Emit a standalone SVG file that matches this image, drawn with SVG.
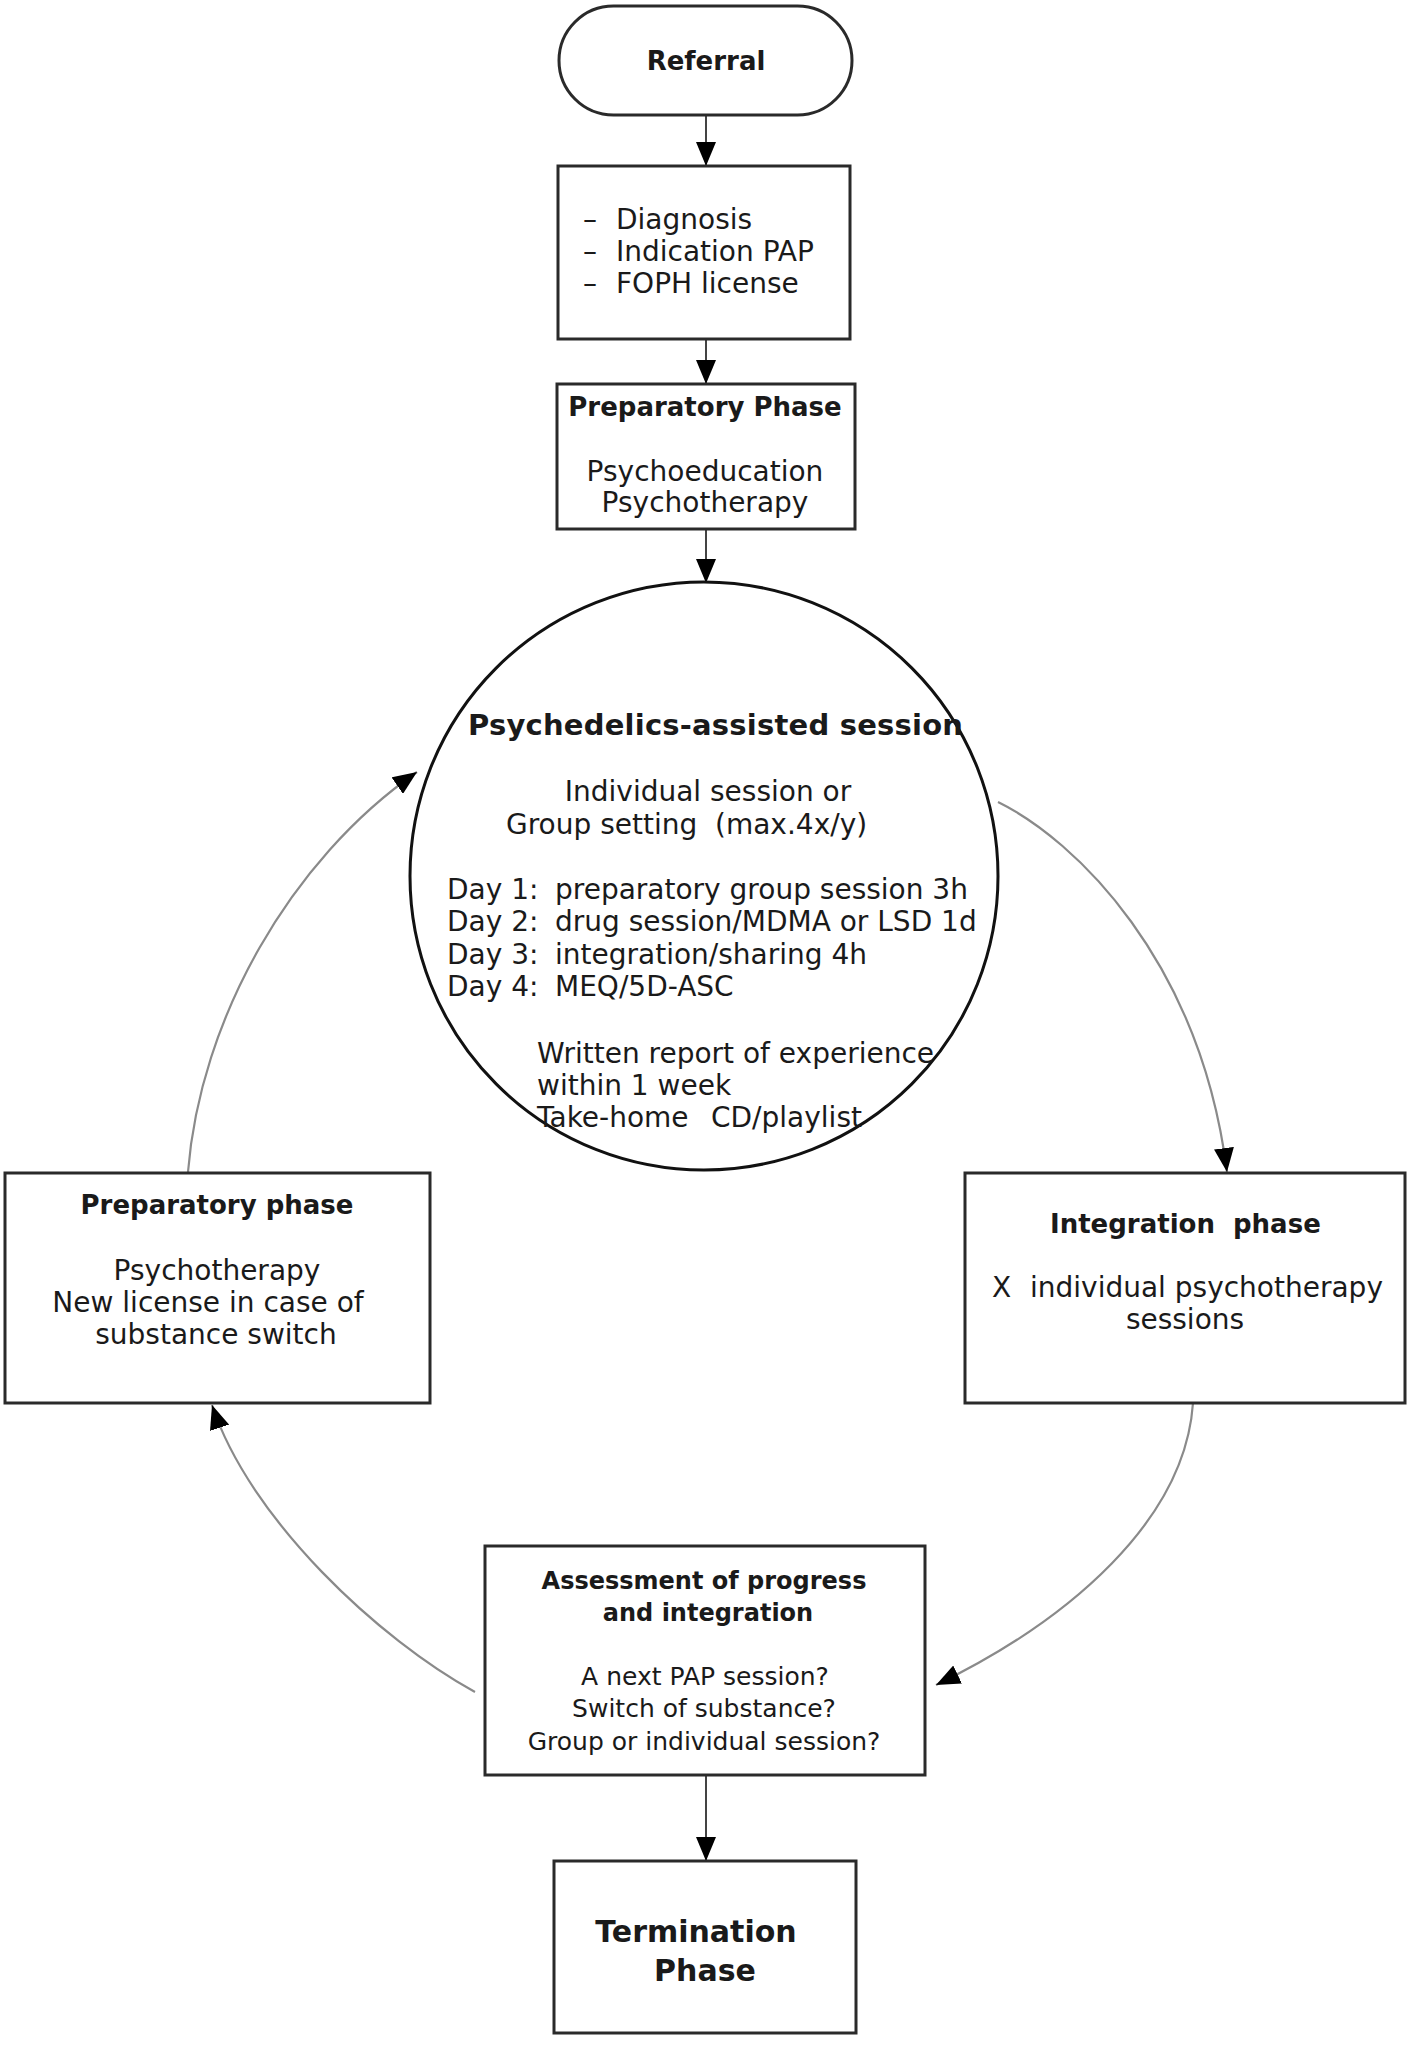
<svg xmlns="http://www.w3.org/2000/svg" width="1417" height="2049" viewBox="0 0 1417 2049">
<style>
  .box { fill: #ffffff; stroke: #2a2a2a; stroke-width: 3; }
  .t { font-family: "DejaVu Sans", "Liberation Sans", sans-serif; font-size: 28px; fill: #1a1a1a; }
  .s { font-size: 25px; }
  .b { font-weight: bold; font-size: 26px; }
  .m { text-anchor: middle; }
  .straight { stroke: #444444; stroke-width: 2; fill: none; }
  .curve { stroke: #8a8a8a; stroke-width: 2.2; fill: none; }
</style>
<defs>
  <marker id="ah" markerUnits="userSpaceOnUse" markerWidth="24" markerHeight="20" viewBox="0 0 24 20" refX="24" refY="10" orient="auto">
    <path d="M0,0 L24,10 L0,20 z" fill="#000000"/>
  </marker>
</defs>
<rect width="1417" height="2049" fill="#ffffff"/>

<g id="connectors">
  <line class="straight" x1="706" y1="115" x2="706" y2="166" marker-end="url(#ah)"/>
  <line class="straight" x1="706" y1="339" x2="706" y2="384" marker-end="url(#ah)"/>
  <line class="straight" x1="706" y1="529" x2="706" y2="583" marker-end="url(#ah)"/>
  <line class="straight" x1="706" y1="1775" x2="706" y2="1861" marker-end="url(#ah)"/>
  <path class="curve" d="M998,802 C1075,840 1200,960 1227,1172" marker-end="url(#ah)"/>
  <path class="curve" d="M1193,1403 C1185,1520 1070,1620 936,1685" marker-end="url(#ah)"/>
  <path class="curve" d="M475,1692 C380,1640 250,1520 212,1405" marker-end="url(#ah)"/>
  <path class="curve" d="M188,1172 C200,1020 290,860 417,772" marker-end="url(#ah)"/>
</g>

<g id="referral">
  <rect class="box" x="559" y="6" width="293" height="109" rx="54.5" ry="54.5"/>
  <text class="t b m" x="706" y="70">Referral</text>
</g>

<g id="diagnosis">
  <rect class="box" x="558" y="166" width="292" height="173"/>
  <text class="t" x="583" y="229">–</text>
  <text class="t" x="616" y="229">Diagnosis</text>
  <text class="t" x="583" y="261">–</text>
  <text class="t" x="616" y="261">Indication PAP</text>
  <text class="t" x="583" y="293">–</text>
  <text class="t" x="616" y="293">FOPH license</text>
</g>

<g id="preparatory-phase-1">
  <rect class="box" x="557" y="384" width="298" height="145"/>
  <text class="t b m" x="705" y="416">Preparatory Phase</text>
  <text class="t m" x="705" y="481">Psychoeducation</text>
  <text class="t m" x="705" y="512">Psychotherapy</text>
</g>

<g id="psychedelic-session">
  <circle cx="704" cy="876" r="294" fill="#ffffff" stroke="#111111" stroke-width="3"/>
  <text class="t b" x="468" y="735" style="font-size:29px" textLength="495">Psychedelics-assisted session</text>
  <text class="t m" x="708" y="801">Individual session or</text>
  <text class="t" y="834"><tspan x="506">Group setting</tspan><tspan x="715">(max.4x/y)</tspan></text>
  <text class="t" y="899"><tspan x="447">Day 1:</tspan><tspan x="555">preparatory group session 3h</tspan></text>
  <text class="t" y="931"><tspan x="447">Day 2:</tspan><tspan x="555">drug session/MDMA or LSD 1d</tspan></text>
  <text class="t" y="964"><tspan x="447">Day 3:</tspan><tspan x="555">integration/sharing 4h</tspan></text>
  <text class="t" y="996"><tspan x="447">Day 4:</tspan><tspan x="555">MEQ/5D-ASC</tspan></text>
  <text class="t" x="537" y="1063">Written report of experience</text>
  <text class="t" x="537" y="1095">within 1 week</text>
  <text class="t" y="1127"><tspan x="537">Take-home</tspan><tspan x="711">CD/playlist</tspan></text>
</g>

<g id="preparatory-phase-2">
  <rect class="box" x="5" y="1173" width="425" height="230"/>
  <text class="t b m" x="217" y="1214">Preparatory phase</text>
  <text class="t m" x="217" y="1280">Psychotherapy</text>
  <text class="t m" x="208" y="1312">New license in case of</text>
  <text class="t m" x="216" y="1344">substance switch</text>
</g>

<g id="integration-phase">
  <rect class="box" x="965" y="1173" width="440" height="230"/>
  <text class="t b" y="1233"><tspan x="1050">Integration</tspan><tspan x="1233">phase</tspan></text>
  <text class="t" y="1297"><tspan x="992">X</tspan><tspan x="1030">individual psychotherapy</tspan></text>
  <text class="t m" x="1185" y="1329">sessions</text>
</g>

<g id="assessment">
  <rect class="box" x="485" y="1546" width="440" height="229"/>
  <text class="t b m" x="704" y="1589" style="font-size:24px">Assessment of progress</text>
  <text class="t b m" x="708" y="1621" style="font-size:24px">and integration</text>
  <text class="t s m" x="705" y="1685">A next PAP session?</text>
  <text class="t s m" x="704" y="1717">Switch of substance?</text>
  <text class="t s m" x="704" y="1750">Group or individual session?</text>
</g>

<g id="termination">
  <rect class="box" x="554" y="1861" width="302" height="172"/>
  <text class="t b m" x="696" y="1942" style="font-size:30px">Termination</text>
  <text class="t b m" x="705" y="1981" style="font-size:30px">Phase</text>
</g>
</svg>
